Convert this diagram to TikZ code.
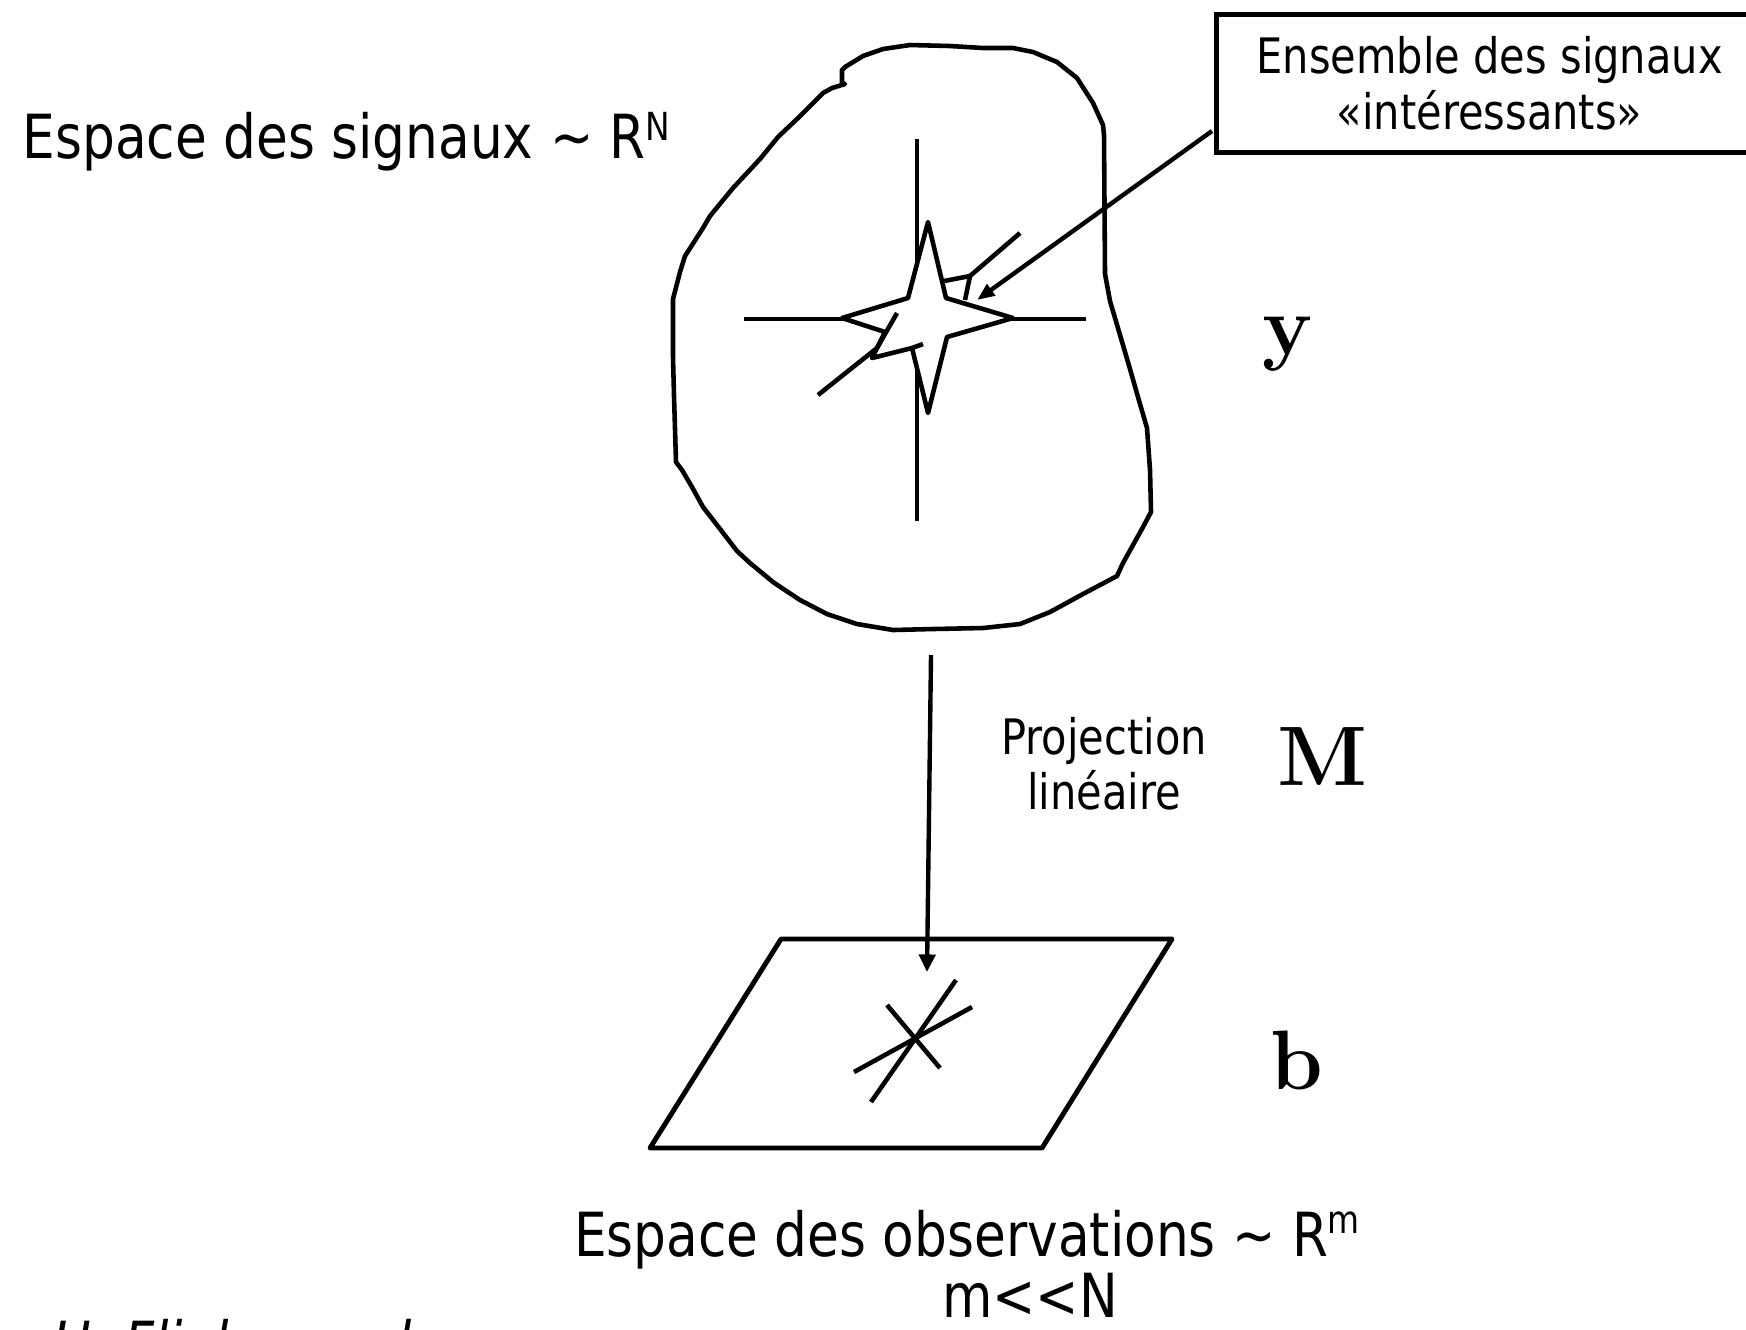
\documentclass[tikz,border=0pt]{standalone}
\usepackage[no-math]{fontspec}
\setmainfont{DejaVu Sans}[FakeStretch=0.85]
\newfontfamily\romanletters{Latin Modern Roman}
\usepackage{tikz}
\usetikzlibrary{%
	calc,%
	arrows.meta,%
}
\tikzset{
	>=Triangle,%
	bigtext/.style={%
			inner sep=0pt,%
			font=\fontsize{17.3}{20}\selectfont},%
	smalltext/.style={%
			inner sep=0pt,%
			font=\fontsize{13.9}{16}\selectfont},%
	vecname/.style={%
			inner sep=0pt,%
			font=\romanletters\bfseries\fontsize{24}{28}\selectfont},%
	outline/.style={%
			line width=1.3pt,%
			line join=round},%
	axis/.style={%
			line width=1.3pt},%
	notebox/.style={%
			draw,%
			rectangle,%
			line width=1.4pt,%
			minimum width=5.46cm,%
			minimum height=1.38cm,%
			align=center,%
			fill=white},%
	pointer/.style={%
			line width=1.25pt,%
			-{Triangle[length=5pt,width=4pt]}},%
}
\newcommand{\supidx}[2][5pt]{\raisebox{#1}{\fontsize{11}{11}\selectfont #2}}

\begin{document}
\begin{tikzpicture}[x=0.01cm, y=-0.01cm]
	\useasboundingbox (0,0) rectangle (1746,1329);

	% signal space
	\draw[outline] (845,84) -- (842,83) -- (842,70) -- (845,67) -- (863,56) -- (883,49) -- (910,45) -- (950,46) -- (983,48) -- (1013,48) -- (1033,52) -- (1057,62) -- (1077,78) -- (1093,103) -- (1103,125) -- (1104,135) -- (1105,274) -- (1110,301) -- (1130,369) -- (1140,404) -- (1147,428) -- (1150,470) -- (1151,512) -- (1143,527) -- (1123,563) -- (1117,576) -- (1083,594) -- (1050,612) -- (1020,624) -- (983,628) -- (933,629) -- (893,630) -- (857,624) -- (827,614) -- (800,600) -- (773,582) -- (750,563) -- (737,551) -- (717,525) -- (703,507) -- (692,487) -- (682,470) -- (676,462) -- (674,396) -- (673,357) -- (673,299) -- (680,272) -- (685,256) -- (703,228) -- (710,216) -- (733,188) -- (760,159) -- (778,137) -- (797,119) -- (803,113) -- (823,93) -- (832,88) -- cycle;

	\draw[axis] (917,139) -- (917,521);
	\draw[axis] (744,319) -- (1086,319);
	\draw[axis] (818,395) -- (877,348);
	\draw[axis] (1020,233) -- (970,276);

	\draw[outline, fill=white] (842,318) -- (885,332) -- (872,358) -- (912,348) -- (928,413) -- (947,337) -- (1013,318) -- (946,298) -- (928,222) -- (908,298) -- cycle;
	\draw[axis] (912,348) -- (923,344);
	\draw[axis] (877,348) -- (897,313);
	\draw[axis] (944,281) -- (970,276) -- (965,300);

	\node[bigtext, anchor=base west] (sigspace) at (22,158) {Espace des signaux \textasciitilde{} R\supidx{N}};
	\node[smalltext, notebox, anchor=north west] (interest) at (1214,12) {Ensemble des signaux\\«intéressants»};
	\coordinate (startip) at (977,300);
	\draw[pointer, -{Triangle[length=5pt,width=3.8pt]}] ($(interest.south west)+(-2,-24)$) -- (startip);

	\node[vecname, anchor=base] (yvec) at (1288,354) {y};

	% projection
	\coordinate (blobfoot) at (931,655);
	\coordinate (hit) at (927,972);
	\draw[pointer, -{Triangle[length=5pt,width=4.6pt]}] (blobfoot) -- (hit);
	\node[smalltext, anchor=base] (projtop) at (1104,754) {Projection};
	\node[smalltext, anchor=base] (projbot) at (1104,809) {linéaire};
	\node[vecname, anchor=base] (mmat) at (1323,785) {M};

	% observation space
	\draw[outline, line width=1.4pt] (781,939) -- (1172,939) -- (1042,1148) -- (650,1148) -- cycle;
	\draw[axis] (854,1072) -- (972,1007);
	\draw[axis] (871,1102) -- (956,980);
	\draw[axis] (887,1005) -- (940,1068);
	\node[vecname, anchor=base] (bvec) at (1297,1089) {b};

	\node[bigtext, anchor=base] (obsspace) at (967,1256) {Espace des observations \textasciitilde{} R\supidx[6.5pt]{m}};
	\node[bigtext, anchor=base] (ratio) at (1030,1317) {m<{}<N};
	\node[bigtext, font=\fontsize{17.3}{20}\selectfont\itshape, anchor=base west] (credit) at (52,1365) {H. Fliebaum d.};
\end{tikzpicture}
\end{document}
